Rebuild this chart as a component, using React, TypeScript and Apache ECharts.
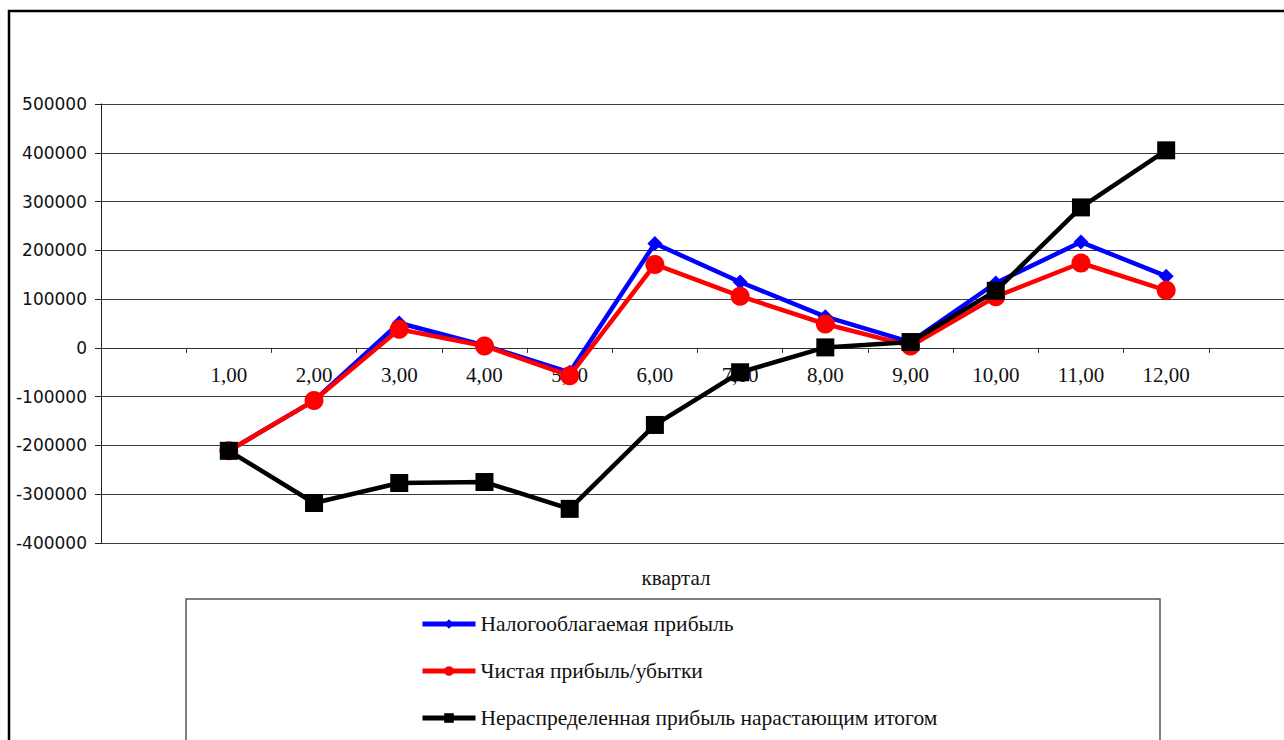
import React, { useEffect, useRef } from "react";
import * as echarts from "echarts";

// Quarters (with an empty slot on each side of the category axis)
const quarters = ["", "1,00", "2,00", "3,00", "4,00", "5,00", "6,00", "7,00", "8,00", "9,00", "10,00", "11,00", "12,00", ""];

const taxableProfit = [null, -211000, -108000, 51000, 5000, -50000, 214000, 135000, 64000, 12000, 133000, 217000, 147000, null];
const netProfit = [null, -211000, -108000, 38000, 4000, -57000, 171000, 106000, 49000, 4000, 105000, 174000, 118000, null];
const retainedEarnings = [null, -211000, -318000, -277000, -275000, -330000, -158000, -50000, 1000, 12000, 117000, 288000, 405000, null];

const seriesNames = [
  "Налогооблагаемая прибыль",
  "Чистая прибыль/убытки",
  "Нераспределенная прибыль нарастающим итогом",
];

const yMin = -400000;
const yMax = 500000;
const yStep = 100000;

const serif = "'Liberation Serif', 'Times New Roman', serif";
const sans = "'DejaVu Sans', Verdana, sans-serif";

// The plot runs a little past the visible right edge, so the canvas is wider than the frame.
const CANVAS_W = 1300;
const CANVAS_H = 740;
const PLOT_LEFT = 101;
const PLOT_TOP = 104;
const PLOT_BOTTOM = 543;
const PLOT_RIGHT = 1294;

export default function App() {
  const ref = useRef<HTMLDivElement>(null);

  useEffect(() => {
    if (!ref.current) return;
    const chart = echarts.init(ref.current, null, { renderer: "svg" });
    const plotH = PLOT_BOTTOM - PLOT_TOP;
    const zeroOffset = (plotH * (0 - yMin)) / (yMax - yMin);
    chart.setOption({
      animation: false,
      backgroundColor: "#ffffff",
      grid: {
        left: PLOT_LEFT,
        top: PLOT_TOP,
        bottom: CANVAS_H - PLOT_BOTTOM,
        right: CANVAS_W - PLOT_RIGHT,
        containLabel: false,
      },
      xAxis: {
        type: "category",
        data: quarters,
        boundaryGap: true,
        offset: -zeroOffset,
        axisLine: { show: true, onZero: false, lineStyle: { color: "#333", width: 1 } },
        axisTick: { show: true, length: 5, interval: 0, lineStyle: { color: "#333" } },
        axisLabel: { interval: 0, margin: 17, color: "#111", fontFamily: serif, fontSize: 21 },
        splitLine: { show: false },
      },
      yAxis: {
        type: "value",
        min: yMin,
        max: yMax,
        interval: yStep,
        axisLine: { show: true, lineStyle: { color: "#222", width: 1 } },
        axisTick: { show: true, length: 6, lineStyle: { color: "#222" } },
        axisLabel: {
          margin: 14,
          color: "#111",
          fontFamily: sans,
          fontSize: 17,
          formatter: (v: number) => String(v),
        },
        splitLine: { show: true, lineStyle: { color: "#3a3a3a", width: 1 } },
      },
      legend: {
        orient: "vertical",
        left: 420,
        top: 613,
        padding: 0,
        itemWidth: 53,
        itemHeight: 12,
        itemGap: 25,
        lineStyle: { width: 5 },
        textStyle: { fontFamily: serif, fontSize: 21.5, color: "#111" },
        data: seriesNames,
      },
      graphic: [
        {
          type: "rect",
          shape: { x: 9, y: 11, width: 1320, height: 800 },
          style: { fill: "none", stroke: "#000", lineWidth: 2.5 },
          z: 10,
        },
        {
          type: "rect",
          shape: { x: 186, y: 599, width: 974, height: 200 },
          style: { fill: "none", stroke: "#555", lineWidth: 1.5 },
          z: 10,
        },
        {
          type: "text",
          x: 676,
          y: 578,
          style: {
            text: "квартал",
            fontFamily: serif,
            fontSize: 21,
            fill: "#111",
            align: "center",
            verticalAlign: "middle",
          },
        },
      ],
      series: [
        {
          name: seriesNames[0],
          type: "line",
          data: taxableProfit,
          symbol: "diamond",
          symbolSize: 15,
          itemStyle: { color: "#0000ff" },
          lineStyle: { color: "#0000ff", width: 4.5 },
          z: 2,
        },
        {
          name: seriesNames[1],
          type: "line",
          data: netProfit,
          symbol: "circle",
          symbolSize: 19,
          itemStyle: { color: "#ff0000" },
          lineStyle: { color: "#ff0000", width: 4.5 },
          z: 3,
        },
        {
          name: seriesNames[2],
          type: "line",
          data: retainedEarnings,
          symbol: "rect",
          symbolSize: 18,
          itemStyle: { color: "#000000" },
          lineStyle: { color: "#000000", width: 4.5 },
          z: 4,
        },
      ],
    });
    return () => chart.dispose();
  }, []);

  return (
    <div style={{ position: "fixed", left: 0, top: 0, width: 1284, height: 740, overflow: "hidden" }}>
      <div ref={ref} style={{ width: CANVAS_W, height: CANVAS_H }} />
    </div>
  );
}
